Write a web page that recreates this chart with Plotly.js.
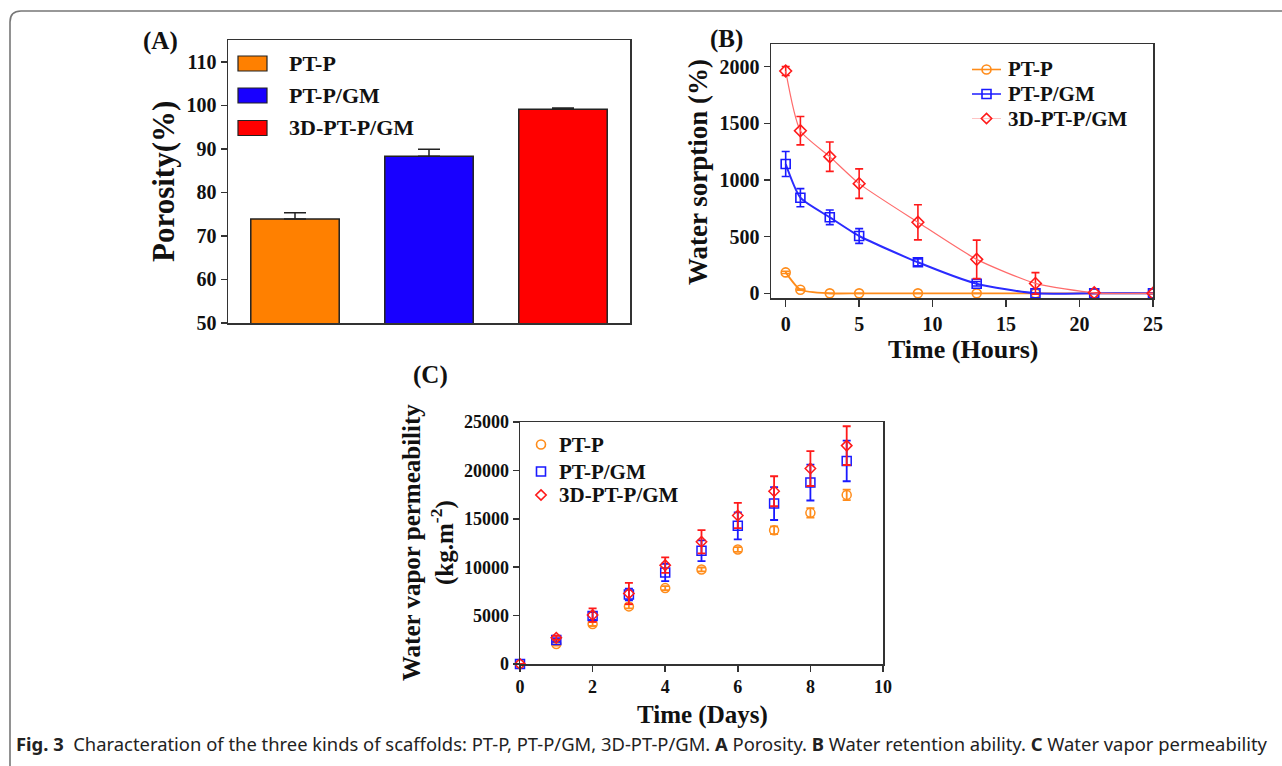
<!DOCTYPE html>
<html>
<head>
<meta charset="utf-8">
<script src="https://cdn.plot.ly/plotly-3.0.1.min.js"></script>
<style>html,body{margin:0;padding:0;background:#fff;}#chart{width:1282px;height:766px;}</style>
</head>
<body>
<div id="chart"></div>
<script>
// ---------- data ----------
const seriesNames = ['PT-P', 'PT-P/GM', '3D-PT-P/GM'];
const seriesColors = ['#ff8000', '#1800ff', '#ff0000'];
const markerColors = ['#ff8c1a', '#1a1aff', '#ff1a1a'];
const lineColorsB = ['#ff8c1a', '#2b2bff', '#ff6b6b'];
const symbols = ['circle', 'square', 'diamond'];

// (A) Porosity
const porosity = [73.9, 88.3, 99.1];
const porosityErr = [1.4, 1.6, 0.3];

// (B) Water sorption vs hours
const hoursB = [0, 1, 3, 5, 9, 13, 17, 21, 25];
const sorpPTP = [185, 32, 0, 0, 0, 0, 0, 0, 0];
const sorpPTPErr = [10, 5, 0, 0, 0, 0, 0, 0, 0];
const sorpGM = [1141, 844, 671, 506, 274, 85, 0, 0, 0];
const sorpGMErr = [110, 80, 65, 65, 30, 20, 0, 0, 0];
const sorp3D = [1962, 1435, 1206, 968, 627, 300, 88, 5, 0];
const sorp3DErr = [40, 125, 130, 130, 155, 170, 95, 0, 0];

// (C) Water vapor permeability vs days
const daysC = [0, 1, 2, 3, 4, 5, 6, 7, 8, 9];
const wvpPTP = [0, 2063, 4127, 5950, 7841, 9767, 11830, 13825, 15613, 17470];
const wvpPTPErr = [0, 150, 200, 200, 200, 200, 250, 400, 500, 550];
const wvpGM = [0, 2476, 4952, 7187, 9457, 11693, 14272, 16576, 18743, 20978];
const wvpGMErr = [0, 200, 400, 600, 900, 1070, 1400, 1700, 1850, 2100];
const wvp3D = [0, 2717, 5055, 7290, 10214, 12621, 15338, 17848, 20187, 22560];
const wvp3DErr = [0, 200, 700, 1100, 800, 1200, 1300, 1550, 1800, 2000];

const yTicksA = [50, 60, 70, 80, 90, 100, 110];
const yTicksB = [0, 500, 1000, 1500, 2000];
const xTicksB = [0, 5, 10, 15, 20, 25];
const yTicksC = [0, 5000, 10000, 15000, 20000, 25000];
const xTicksC = [0, 2, 4, 6, 8, 10];

// ---------- layout helpers ----------
const W = 1282, H = 766;
const px = v => v / W;
const py = v => 1 - v / H;
const serif = 'Liberation Serif, Times New Roman, serif';
const axisCol = '#333';

const traces = [];

// A bars
traces.push({
  type: 'bar', x: [0, 1, 2], y: porosity, width: 0.66, name: 'Porosity',
  marker: {color: seriesColors, line: {color: '#222', width: 1.5}},
  error_y: {type: 'data', array: porosityErr, arrayminus: [0, 0, 0], color: '#222', thickness: 1.5, width: 11},
  xaxis: 'x', yaxis: 'y', showlegend: false
});

// B lines
const bSets = [[sorpPTP, sorpPTPErr, 1.8], [sorpGM, sorpGMErr, 2], [sorp3D, sorp3DErr, 1.2]];
bSets.forEach((s, i) => {
  traces.push({
    type: 'scatter', mode: 'lines+markers', x: hoursB, y: s[0], name: seriesNames[i],
    line: {color: lineColorsB[i], width: s[2], shape: 'spline', smoothing: 0.6},
    marker: {symbol: symbols[i] + '-open', size: 9, color: markerColors[i], line: {width: 1.6, color: markerColors[i]}},
    error_y: {type: 'data', array: s[1], color: markerColors[i], thickness: 1.6, width: 4},
    xaxis: 'x2', yaxis: 'y2', showlegend: false
  });
});

// C scatter
const cSets = [[wvpPTP, wvpPTPErr], [wvpGM, wvpGMErr], [wvp3D, wvp3DErr]];
cSets.forEach((s, i) => {
  traces.push({
    type: 'scatter', mode: 'markers', x: daysC, y: s[0], name: seriesNames[i],
    marker: {symbol: symbols[i] + '-open', size: i === 2 ? 8 : 9, color: markerColors[i], line: {width: 1.5, color: markerColors[i]}},
    error_y: {type: 'data', array: s[1], color: markerColors[i], thickness: 1.8, width: 4},
    xaxis: 'x3', yaxis: 'y3', showlegend: false, cliponaxis: false
  });
});

const tickFont = size => ({family: serif, size: size, color: '#111', weight: 'bold'});
const baseAxis = {showline: true, linecolor: axisCol, linewidth: 1.5, mirror: true, showgrid: false, zeroline: false, ticks: 'outside', ticklen: 6, tickwidth: 1.5, tickcolor: axisCol, automargin: false, tickformat: 'd'};

const annotations = [];
const ann = (text, x, y, size, extra) => annotations.push(Object.assign({
  text: text, x: px(x), y: py(y), xref: 'paper', yref: 'paper', showarrow: false,
  xanchor: 'center', yanchor: 'middle', font: {family: serif, size: size, color: '#111', weight: 'bold'}
}, extra || {}));

ann('(A)', 160, 41, 25);
ann('(B)', 727, 39, 25);
ann('(C)', 430, 375, 25);
ann('Porosity(%)', 164, 182, 31, {textangle: -90});
ann('Water sorption (%)', 698, 172, 27, {textangle: -90});
ann('Time (Hours)', 963, 350, 26);
ann('Water vapor permeability<br>(kg.m<sup>-2</sup>)', 428, 543, 25, {textangle: -90});
ann('Time (Days)', 702, 715, 25);

const shapes = [];
// legend marker icon drawn as shape (pixel coords -> paper)
function iconMarker(sym, cx, cy, r, color) {
  if (sym === 'circle') {
    shapes.push({type: 'circle', xref: 'paper', yref: 'paper', x0: px(cx - r), x1: px(cx + r), y0: py(cy + r), y1: py(cy - r), line: {color: color, width: 1.6}, fillcolor: 'rgba(0,0,0,0)'});
  } else if (sym === 'square') {
    shapes.push({type: 'rect', xref: 'paper', yref: 'paper', x0: px(cx - r), x1: px(cx + r), y0: py(cy + r), y1: py(cy - r), line: {color: color, width: 1.6}, fillcolor: 'rgba(0,0,0,0)'});
  } else {
    const r2 = r * 1.15;
    shapes.push({type: 'path', xref: 'paper', yref: 'paper', path: `M ${px(cx)},${py(cy - r2)} L ${px(cx + r2)},${py(cy)} L ${px(cx)},${py(cy + r2)} L ${px(cx - r2)},${py(cy)} Z`, line: {color: color, width: 1.6}});
  }
}

// legend A (colored boxes)
const legARows = [63.5, 95.5, 128];
seriesNames.forEach((n, i) => {
  shapes.push({type: 'rect', xref: 'paper', yref: 'paper', x0: px(238), x1: px(267), y0: py(legARows[i] - 7.5), y1: py(legARows[i] + 7.5), fillcolor: seriesColors[i], line: {color: '#222', width: 1.2}});
  ann(n, 287, legARows[i], 22, {xanchor: 'left'});
});

// legend B (line + marker)
const legBRows = [69.5, 94, 118.5];
seriesNames.forEach((n, i) => {
  shapes.push({type: 'line', xref: 'paper', yref: 'paper', x0: px(972), x1: px(1001), y0: py(legBRows[i]), y1: py(legBRows[i]), line: {color: i === 2 ? '#ffc4c4' : lineColorsB[i], width: i === 2 ? 1 : 1.6}});
  iconMarker(symbols[i], 986.5, legBRows[i], 4.5, markerColors[i]);
  ann(n, 1006, legBRows[i], 21, {xanchor: 'left'});
});

// legend C (markers only)
const legCRows = [444.5, 471.5, 495];
seriesNames.forEach((n, i) => {
  iconMarker(symbols[i], 541, legCRows[i], 4.5, markerColors[i]);
  ann(n, 557, legCRows[i], 21, {xanchor: 'left'});
});

// figure frame (rounded top-left corner)
shapes.push({type: 'path', xref: 'paper', yref: 'paper',
  path: `M ${px(10)},${py(780)} L ${px(10)},${py(22)} Q ${px(10)},${py(11)} ${px(21)},${py(11)} L ${px(1290)},${py(11)}`,
  line: {color: '#777', width: 1.6}});

// caption
annotations.push({
  text: '<b>Fig. 3</b>  Characteration of the three kinds of scaffolds: PT-P, PT-P/GM, 3D-PT-P/GM. <b>A</b> Porosity. <b>B</b> Water retention ability. <b>C</b> Water vapor permeability',
  x: px(14), y: py(743), xref: 'paper', yref: 'paper', showarrow: false, xanchor: 'left', yanchor: 'middle',
  font: {family: 'Noto Sans, Open Sans, sans-serif', size: 18.4, color: '#222'}
});

const layout = {
  width: W, height: H, margin: {l: 0, r: 0, t: 0, b: 0}, paper_bgcolor: '#fff', plot_bgcolor: '#fff',
  xaxis: Object.assign({}, baseAxis, {domain: [px(228), px(630)], range: [-0.5, 2.5], ticks: '', showticklabels: false, anchor: 'y'}),
  yaxis: Object.assign({}, baseAxis, {domain: [py(323), py(40)], range: [50, 115], tickvals: yTicksA, tickfont: tickFont(20), anchor: 'x'}),
  xaxis2: Object.assign({}, baseAxis, {domain: [px(771), px(1153)], range: [-1, 25], tickvals: xTicksB, tickfont: tickFont(20), anchor: 'y2', ticklen: 7}),
  yaxis2: Object.assign({}, baseAxis, {domain: [py(298), py(44)], range: [-41, 2200], tickvals: yTicksB, tickfont: tickFont(20), anchor: 'x2'}),
  xaxis3: Object.assign({}, baseAxis, {domain: [px(520), px(883)], range: [0, 10], tickvals: xTicksC, tickfont: tickFont(18), anchor: 'y3'}),
  yaxis3: Object.assign({}, baseAxis, {domain: [py(664), py(422)], range: [0, 25000], tickvals: yTicksC, tickfont: tickFont(18), anchor: 'x3'}),
  annotations: annotations, shapes: shapes, showlegend: false
};

Plotly.newPlot('chart', traces, layout, {displayModeBar: false, staticPlot: true});
</script>
</body>
</html>
